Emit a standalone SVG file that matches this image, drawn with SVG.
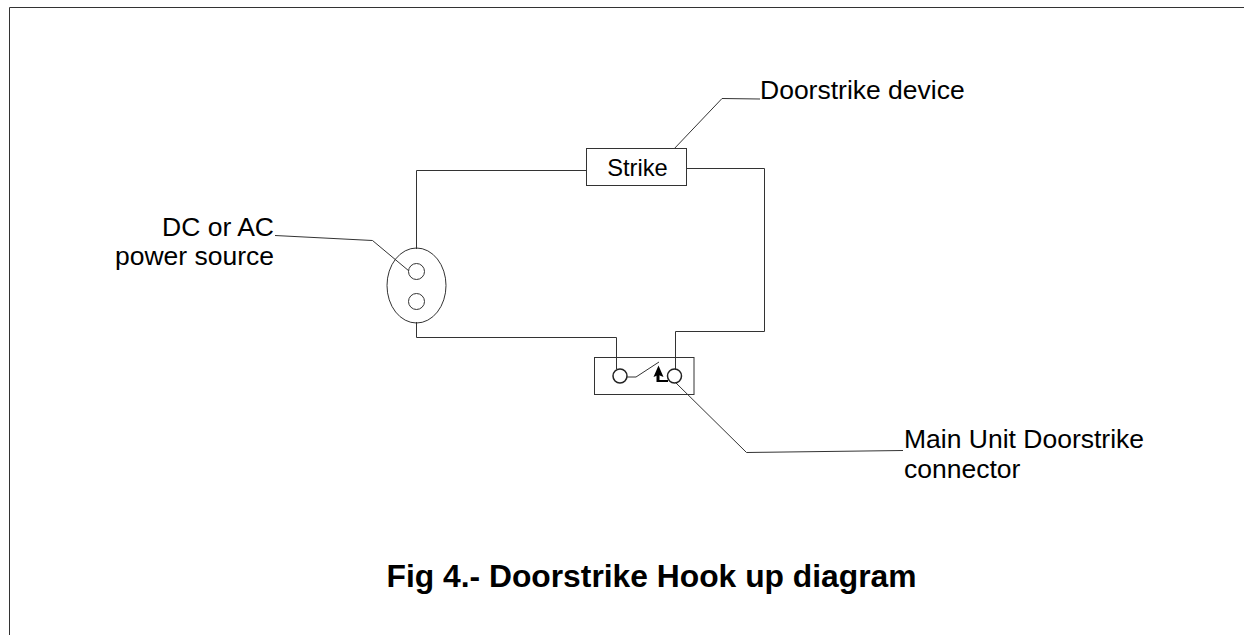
<svg xmlns="http://www.w3.org/2000/svg" width="1244" height="635" viewBox="0 0 1244 635">
<style>
.l{fill:none;stroke:#333;stroke-width:1}
.s{fill:#fff;stroke:#333;stroke-width:1}
.c{fill:#fff;stroke:#222;stroke-width:1.500}
.t{font-family:"Liberation Sans",Arial,sans-serif;font-size:26.500px;fill:#000}
</style>
<rect width="1244" height="635" fill="#fff"/>
<g id="connectors">
<path class="l" d="M9.500 635V7.500H1244"/>
<path class="l" d="M416.500 249V170.500H586.500"/>
<path class="l" d="M686 168.500H764.500V331.500H675.500V369"/>
<path class="l" d="M416.500 322V337.500H616.500V369"/>
<path class="l" d="M275 235.500L372.500 240.500L409 271"/>
<path class="l" d="M673 150L722 98.500L760 99"/>
<path class="l" d="M675 382L746.500 452.500L903 450.500"/>
</g>
<g id="power-source">
<ellipse class="l" cx="416.500" cy="285.500" rx="29.500" ry="37.500"/>
<circle class="s" cx="416.500" cy="271.500" r="8"/>
<circle class="s" cx="416.500" cy="301.500" r="8"/>
</g>
<g id="strike">
<rect class="s" x="586.500" y="148.500" width="100" height="37"/>
<text x="637.500" y="176" text-anchor="middle" style="font-family:'Liberation Sans',Arial,sans-serif;font-size:23.700px">Strike</text>
</g>
<g id="connector-unit">
<rect class="l" x="594.500" y="357.500" width="99.500" height="37"/>
<path d="M658 381H668" fill="none" stroke="#000" stroke-width="2"/>
<path d="M658 382V374" fill="none" stroke="#000" stroke-width="3"/>
<path d="M658.500 365.500L653.500 377L658.500 375L663.500 377Z" fill="#000"/>
<circle class="c" cx="620" cy="376" r="7"/>
<circle class="c" cx="674.500" cy="376" r="7"/>
<path class="l" d="M627 377H636L659 362"/>
</g>
<g id="labels">
<text class="t" x="760" y="99">Doorstrike device</text>
<text class="t" x="274" y="236" text-anchor="end">DC or AC</text>
<text class="t" x="274" y="265" text-anchor="end">power source</text>
<text class="t" x="904" y="448">Main Unit Doorstrike</text>
<text class="t" x="904" y="478">connector</text>
<text x="651.500" y="587" text-anchor="middle" style="font-family:'Liberation Sans',Arial,sans-serif;font-size:31.800px;font-weight:bold">Fig 4.- Doorstrike Hook up diagram</text>
</g>
</svg>
